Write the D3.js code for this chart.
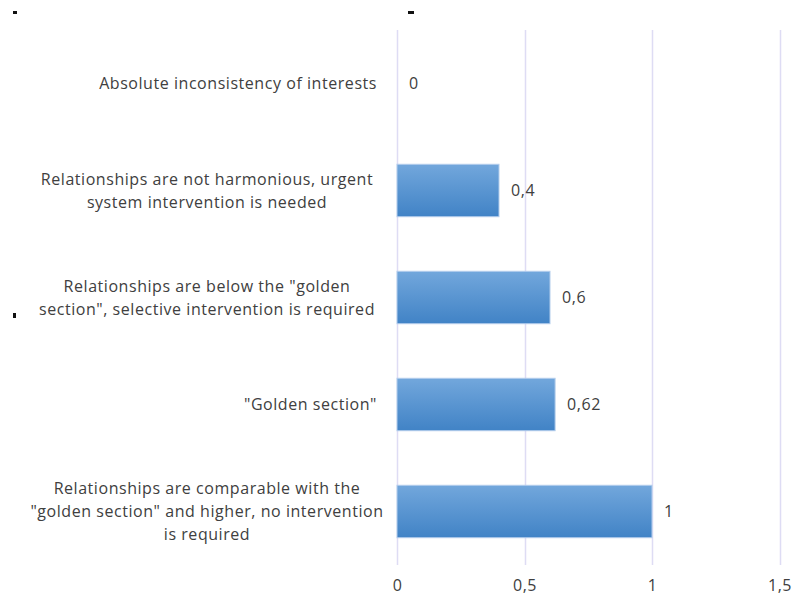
<!DOCTYPE html>
<html><head><meta charset="utf-8">
<script src="https://cdn.jsdelivr.net/npm/d3@7"></script>
<style>body{margin:0;background:#fff;} svg{display:block;}</style>
</head><body>
<svg id="chart" width="792" height="600"></svg>
<script>
const categories = [
  ["Absolute inconsistency of interests"],
  ["Relationships are not harmonious, urgent", "system intervention is needed"],
  ["Relationships are below the \"golden", "section\", selective intervention is required"],
  ["\"Golden section\""],
  ["Relationships are comparable with the", "\"golden section\" and higher, no intervention", "is required"]
];
const values = [0, 0.4, 0.6, 0.62, 1];
const valueLabels = ["0", "0,4", "0,6", "0,62", "1"];
const tickValues = [0, 0.5, 1, 1.5];
const tickLabels = ["0", "0,5", "1", "1,5"];

const svg = d3.select("#chart");
const font = "'Open Sans', sans-serif";
const fs = 16;
const ls = 0.55;
const textColor = "#404040";

const x = d3.scaleLinear().domain([0, 1.5]).range([397, 779.5]);
const y = d3.scaleBand().domain(d3.range(values.length)).range([30, 565]).paddingInner(0.51).paddingOuter(0.255);

const defs = svg.append("defs");
const grad = defs.append("linearGradient").attr("id","barGrad").attr("x1",0).attr("y1",0).attr("x2",0).attr("y2",1);
grad.append("stop").attr("offset","0%").attr("stop-color","#72a7dc");
grad.append("stop").attr("offset","100%").attr("stop-color","#4183c6");

// gridlines
svg.append("g").selectAll("line").data(tickValues).join("line")
  .attr("x1", d => Math.round(x(d)) + 0.5).attr("x2", d => Math.round(x(d)) + 0.5)
  .attr("y1", 30).attr("y2", 565)
  .attr("stroke", "#dedcf4").attr("stroke-width", 1.5);

// axis labels
const xAxis = d3.axisBottom(x).tickValues(tickValues).tickFormat((d,i) => tickLabels[i]).tickSize(0).tickPadding(0);
const ax = svg.append("g").attr("transform", "translate(0,585)").call(xAxis);
ax.select(".domain").remove();
ax.selectAll("text").attr("font-family", font).attr("font-size", fs).attr("letter-spacing", ls).attr("fill", textColor).attr("dy","0.35em");

// bars
svg.append("g").selectAll("rect").data(values).join("rect")
  .attr("x", x(0)).attr("y", (d,i) => y(i))
  .attr("width", d => x(d) - x(0)).attr("height", y.bandwidth())
  .attr("fill", "url(#barGrad)")
  .attr("stroke", d => d > 0 ? "#b3cdec" : "none").attr("stroke-width", 1)
  .attr("display", d => d > 0 ? null : "none");

// value labels
svg.append("g").selectAll("text").data(values).join("text")
  .attr("x", d => x(d) + 12).attr("y", (d,i) => y(i) + y.bandwidth()/2)
  .attr("dy", "0.35em")
  .attr("font-family", font).attr("font-size", fs).attr("letter-spacing", ls).attr("fill", textColor)
  .text((d,i) => valueLabels[i]);

// category labels
const lineH = 23;
const cat = svg.append("g").selectAll("text").data(categories).join("text")
  .attr("text-anchor", "middle")
  .attr("font-family", font).attr("font-size", fs).attr("letter-spacing", ls).attr("fill", textColor)
  .attr("transform", (d,i) => `translate(${d.length === 1 ? 377 : 0},${y(i) + y.bandwidth()/2})`);
cat.each(function(lines){
  const t = d3.select(this);
  const n = lines.length;
  if (n === 1) t.attr("text-anchor","end");
  lines.forEach((l, k) => {
    t.append("tspan").attr("x", n === 1 ? 0 : 207)
      .attr("y", (k - (n-1)/2) * lineH).attr("dy","0.35em").text(l);
  });
});

// small stray marks in the reference
const marks = [[13,11,4,3],[408,11,6,3],[13,313,3,5]];
svg.append("g").selectAll("rect").data(marks).join("rect")
  .attr("x", d=>d[0]).attr("y", d=>d[1]).attr("width", d=>d[2]).attr("height", d=>d[3]).attr("fill","#111");
</script>
</body></html>
